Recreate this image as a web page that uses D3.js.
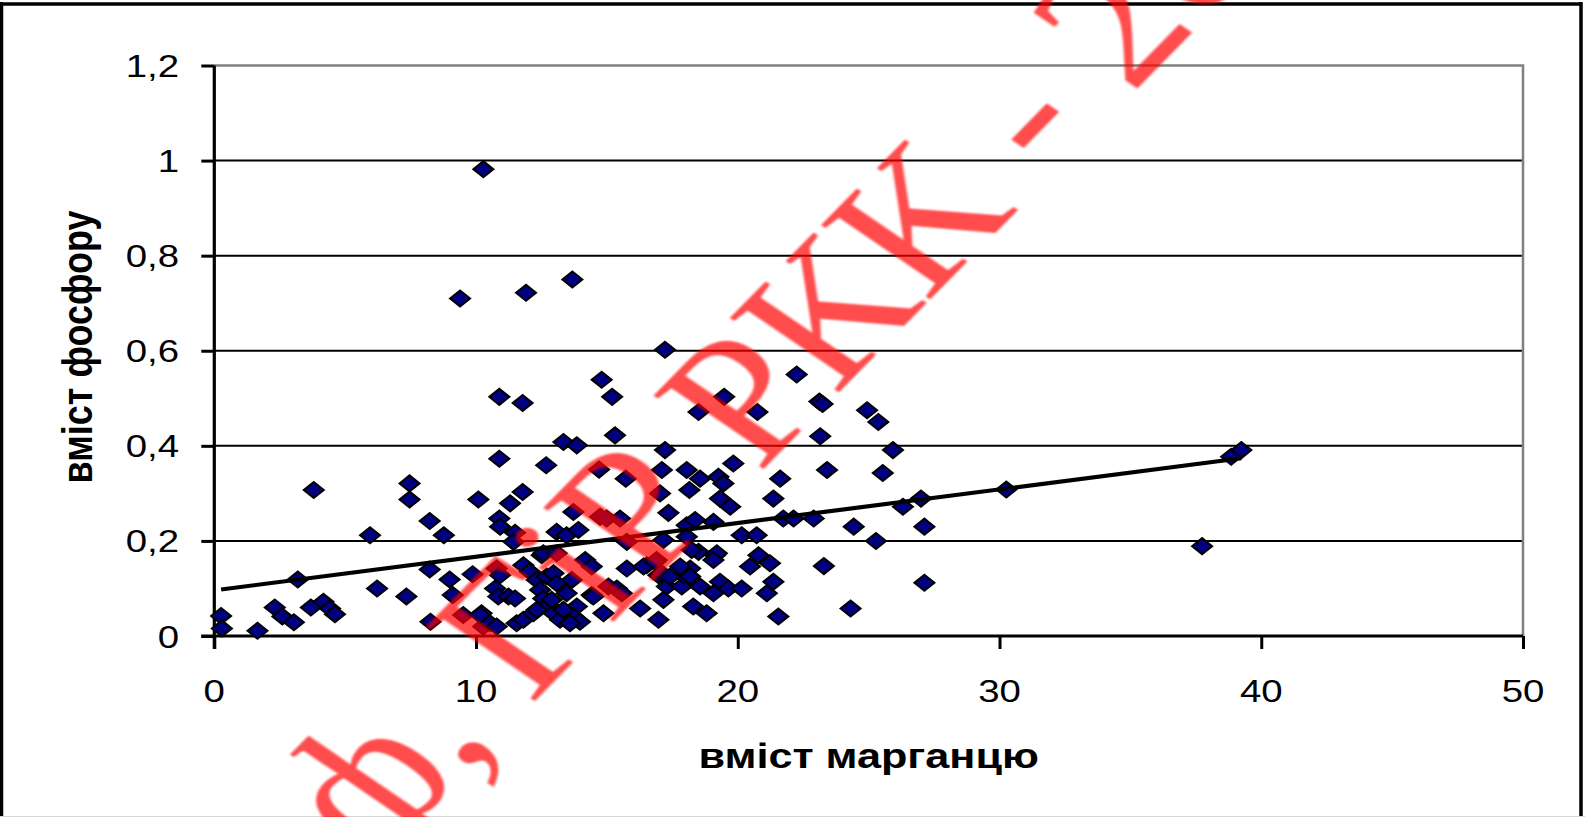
<!DOCTYPE html>
<html>
<head>
<meta charset="utf-8">
<script src="https://cdn.jsdelivr.net/npm/d3@7"></script>
<style>
  html, body { margin: 0; padding: 0; background: #fff; overflow: hidden; }
  svg { display: block; }
  .sans { font-family: "Liberation Sans", Arial, sans-serif; }
</style>
</head>
<body>
<svg id="chart" width="1585" height="817"></svg>
<script>
// Axis ticks and labels
const xTicks = [0, 10, 20, 30, 40, 50];
const yTicks = [0, 0.2, 0.4, 0.6, 0.8, 1, 1.2];
const yTickLabels = ["0", "0,2", "0,4", "0,6", "0,8", "1", "1,2"];
const xTitle = "вміст марганцю";
const yTitle = "вміст фосфору";

// Samples: [manganese content, phosphorus content]
const samples = [
  [0.26,0.042],[0.29,0.016],[1.65,0.011],[2.31,0.060],[2.60,0.041],[3.04,0.029],[3.19,0.119],
  [3.69,0.060],[3.80,0.307],[4.17,0.072],[4.42,0.058],[4.61,0.046],[5.95,0.212],[6.22,0.100],
  [7.34,0.083],[7.46,0.321],[7.46,0.287],[8.23,0.242],[8.23,0.140],[8.26,0.030],[8.77,0.212],
  [8.99,0.119],[9.11,0.086],[9.39,0.710],[9.51,0.044],[9.87,0.130],[10.09,0.287],[10.21,0.048],
  [10.27,0.020],[10.28,0.982],
  [11.91,0.722],[13.68,0.750],[17.22,0.602],[14.80,0.539],[15.20,0.503],[10.89,0.503],[11.78,0.490],
  [22.25,0.550],[19.48,0.503],[18.50,0.471],[20.75,0.471],[15.31,0.422],[13.34,0.408],[13.85,0.401],
  [10.89,0.373],[12.68,0.359],[14.70,0.350],[15.72,0.331],[17.22,0.391],[17.10,0.349],[19.83,0.363],
  [18.05,0.349],[18.56,0.331],[19.26,0.335],[19.45,0.321],[21.62,0.331],[11.78,0.303],[11.30,0.279],
  [17.03,0.300],[18.15,0.307],[19.32,0.289],[19.71,0.272],[21.36,0.289],[17.35,0.259],[13.72,0.261],
  [10.89,0.247],[10.92,0.230],[11.49,0.217],[11.43,0.198],[13.08,0.219],[13.46,0.212],[13.91,0.223],
  [14.74,0.251],[14.99,0.247],[15.50,0.247],[15.76,0.198],[17.16,0.202],[18.05,0.233],[18.37,0.244],
  [19.07,0.240],[20.15,0.212],[20.72,0.212],[21.74,0.247],[22.13,0.247],[18.05,0.209],[22.90,0.247],
  [10.79,0.142],[10.92,0.128],[10.73,0.100],[10.85,0.083],[11.24,0.083],[11.49,0.079],[11.81,0.149],
  [12.06,0.135],[12.32,0.118],[12.51,0.170],[12.70,0.125],[12.96,0.132],[13.08,0.111],[12.45,0.097],
  [12.57,0.079],[12.76,0.065],[12.96,0.048],[13.46,0.090],[13.66,0.118],[13.85,0.062],[13.72,0.041],
  [13.97,0.030],[14.17,0.160],[14.42,0.146],[14.42,0.086],[14.87,0.048],[15.06,0.104],[15.38,0.100],
  [15.76,0.142],[16.27,0.058],[16.52,0.149],[16.90,0.160],[16.97,0.128],[17.16,0.076],[16.97,0.034],
  [17.29,0.104],[17.86,0.104],[17.92,0.128],[18.18,0.142],[18.50,0.177],[18.30,0.062],[18.81,0.048],
  [18.56,0.104],[19.07,0.090],[19.32,0.114],[19.13,0.170],[19.64,0.100],[20.15,0.100],[20.47,0.146],
  [20.79,0.170],[21.23,0.153],[21.36,0.114],[21.11,0.090],[21.55,0.041],[10.15,0.044],[10.53,0.027],
  [11.55,0.027],[11.81,0.034],[12.19,0.048],[13.21,0.034],[13.59,0.027],[10.79,0.020],
  [12.57,0.174],[13.08,0.174],[15.57,0.090],[16.40,0.146],[16.84,0.156],[17.09,0.132],[17.41,0.125],
  [17.80,0.146],[18.18,0.125],[19.20,0.174],[19.07,0.160],[18.24,0.181],[12.89,0.076],[13.34,0.055],
  [14.48,0.083],[12.32,0.055],
  [23.12,0.493],[23.24,0.488],[24.94,0.475],[25.37,0.450],[23.15,0.420],[25.93,0.391],[23.41,0.349],
  [25.54,0.343],[26.31,0.272],[27.00,0.289],[24.43,0.230],[27.13,0.230],[25.28,0.200],[23.29,0.147],
  [27.13,0.112],[24.31,0.058],[30.26,0.308],[37.74,0.189],[38.85,0.377],[39.24,0.391]
];

// Linear trend line: p = intercept + slope * mn
const trendIntercept = 0.096;
const trendSlope = 0.00708;

// Watermark text, split around the comma used as its anchor
const stampBefore = "проф";
const stampAfter = ", ГіР РКК - 2013";

const W = 1585, H = 817;
const plot = { left: 214.3, right: 1523, top: 65.5, bottom: 636 };
const stretch = 1.2; // glyphs are drawn slightly wider than tall

const svg = d3.select("#chart");
const x = d3.scaleLinear().domain([0, 50]).range([plot.left, plot.right]);
const y = d3.scaleLinear().domain([0, 1.2]).range([plot.bottom, plot.top]);

svg.append("rect").attr("width", W).attr("height", H).attr("fill", "#fff");

// Outer frame
const frame = svg.append("g").attr("stroke", "#000").attr("stroke-width", 3.5).attr("fill", "none");
frame.append("line").attr("x1", 1.5).attr("x2", 1.5).attr("y1", 2).attr("y2", H);
frame.append("line").attr("x1", 0).attr("x2", 1582).attr("y1", 4).attr("y2", 4);
frame.append("line").attr("x1", 1581).attr("x2", 1581).attr("y1", 2).attr("y2", H);
svg.append("line").attr("x1", 0).attr("x2", W).attr("y1", 816.5).attr("y2", 816.5)
  .attr("stroke", "#d9d9d9").attr("stroke-width", 1);

// Horizontal gridlines
svg.append("g").selectAll("line")
  .data(yTicks.filter(v => v > 0 && v < 1.2))
  .join("line")
  .attr("x1", plot.left).attr("x2", plot.right)
  .attr("y1", d => y(d)).attr("y2", d => y(d))
  .attr("stroke", "#000").attr("stroke-width", 2);

// Plot-area border (top and right)
svg.append("path")
  .attr("d", `M${plot.left},${y(1.2)}H${plot.right}V${plot.bottom}`)
  .attr("fill", "none").attr("stroke", "#808080").attr("stroke-width", 2.5);

// Axes
const tickLen = 13;
const yAxis = d3.axisLeft(y).tickValues(yTicks).tickSize(tickLen).tickFormat("");
const xAxis = d3.axisBottom(x).tickValues(xTicks).tickSize(tickLen).tickFormat("");
const gy = svg.append("g").attr("transform", `translate(${plot.left},0)`).call(yAxis);
const gx = svg.append("g").attr("transform", `translate(0,${plot.bottom})`).call(xAxis);
gy.select(".domain").remove();
gx.select(".domain").remove();
[gx, gy].forEach(g => g.selectAll(".tick line").attr("stroke", "#000").attr("stroke-width", 3));
svg.append("line").attr("x1", plot.left).attr("x2", plot.left)
  .attr("y1", plot.top).attr("y2", plot.bottom + tickLen)
  .attr("stroke", "#000").attr("stroke-width", 3.2);
svg.append("line").attr("x1", plot.left - tickLen).attr("x2", plot.right)
  .attr("y1", plot.bottom).attr("y2", plot.bottom)
  .attr("stroke", "#000").attr("stroke-width", 3.2);

// Tick labels
svg.append("g").attr("class", "sans").selectAll("text")
  .data(yTicks)
  .join("text")
  .attr("transform", d => `translate(179,${y(d)}) scale(${stretch},1)`)
  .attr("dy", "0.36em")
  .attr("text-anchor", "end")
  .attr("font-size", 32).attr("fill", "#000")
  .text((d, i) => yTickLabels[i]);

svg.append("g").attr("class", "sans").selectAll("text")
  .data(xTicks)
  .join("text")
  .attr("transform", d => `translate(${x(d)},701.5) scale(${stretch},1)`)
  .attr("text-anchor", "middle")
  .attr("font-size", 32).attr("fill", "#000")
  .text(d => String(d));

// Axis titles
svg.append("text").attr("class", "sans")
  .attr("transform", `translate(${(plot.left + plot.right) / 2},768) scale(${stretch},1)`)
  .attr("text-anchor", "middle")
  .attr("font-weight", "bold").attr("font-size", 36)
  .attr("fill", "#000")
  .text(xTitle);

svg.append("text").attr("class", "sans")
  .attr("transform", `translate(92,347) scale(${stretch},1) rotate(-90)`)
  .attr("text-anchor", "middle")
  .attr("font-weight", "bold").attr("font-size", 36)
  .attr("fill", "#000")
  .text(yTitle);

// Markers
const mw = 10, mh = 8;
const diamond = `M0,${-mh}L${mw},0L0,${mh}L${-mw},0Z`;
svg.append("g").selectAll("path")
  .data(samples)
  .join("path")
  .attr("transform", d => `translate(${x(d[0])},${y(d[1])})`)
  .attr("d", diamond)
  .attr("fill", "#000080")
  .attr("stroke", "#000")
  .attr("stroke-width", 2)
  .attr("stroke-linejoin", "miter");

// Trend line across the sampled range
const xExtent = d3.extent(samples, d => d[0]);
const trend = xExtent.map(v => [v, trendIntercept + trendSlope * v]);
svg.append("path")
  .datum(trend)
  .attr("d", d3.line().x(d => x(d[0])).y(d => y(d[1])))
  .attr("fill", "none").attr("stroke", "#000").attr("stroke-width", 4.2);

// Watermark stamp
const defs = svg.append("defs");
defs.append("filter").attr("id", "soft")
  .attr("x", "-5%").attr("y", "-5%").attr("width", "110%").attr("height", "110%")
  .append("feGaussianBlur").attr("stdDeviation", 0.8);

const stamp = svg.append("g")
  .attr("transform", `translate(463,775) scale(${stretch},1) rotate(-50.7)`)
  .attr("fill", "rgba(255,0,0,0.7)")
  .attr("filter", "url(#soft)");
[[stampBefore, "end"], [stampAfter, "start"]].forEach(([t, anchor]) => {
  stamp.append("text")
    .attr("text-anchor", anchor)
    .style("font-family", "'Liberation Serif', 'Times New Roman', serif")
    .style("font-size", "180px")
    .style("font-weight", "normal")
    .text(t);
});
</script>
</body>
</html>
